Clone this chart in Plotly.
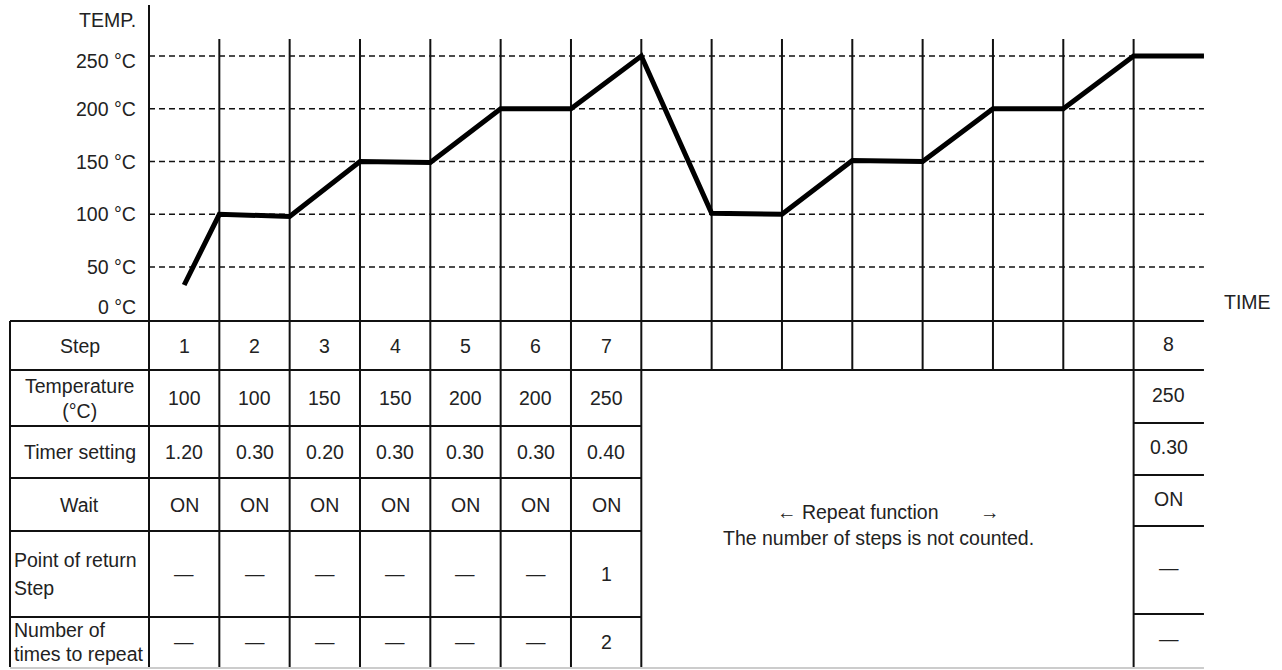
import plotly.graph_objects as go

# ---------------- data ----------------
time_points = [0.5, 1, 2, 3, 4, 5, 6, 7, 8, 9, 10, 11, 12, 13, 14, 15]
temp_profile = [33, 100, 98, 150, 149, 200, 200, 250, 101, 100, 151, 150, 200, 200, 250, 250]

temp_ticks = [0, 50, 100, 150, 200, 250]
temp_tick_labels = ["0 °C", "50 °C", "100 °C", "150 °C", "200 °C", "250 °C"]

row_headers = ["Step", "Temperature<br>(°C)", "Timer setting", "Wait"]
row_headers_left = [["Point of return", "Step"], ["Number of", "times to repeat"]]

steps = ["1", "2", "3", "4", "5", "6", "7"]
step_temps = ["100", "100", "150", "150", "200", "200", "250"]
timer_settings = ["1.20", "0.30", "0.20", "0.30", "0.30", "0.30", "0.40"]
wait_flags = ["ON", "ON", "ON", "ON", "ON", "ON", "ON"]
return_steps = ["—", "—", "—", "—", "—", "—", "1"]
repeat_counts = ["—", "—", "—", "—", "—", "—", "2"]

last_step = ["8", "250", "0.30", "ON", "—", "—"]

repeat_note_1 = "← Repeat function"
repeat_note_arrow = "→"
repeat_note_2 = "The number of steps is not counted."

# ---------------- geometry (pixels) ----------------
W, H = 1282, 670
X0, DX = 149.0, 70.33      # pixel of x=0, pixels per column
Y0, DY = 319.8, 1.055      # pixel of 0 °C, pixels per °C
N_COLS = 15

def xp(px):
    return (px - X0) / DX

def yp(py):
    return (Y0 - py) / DY

TABLE_LEFT = 10
ROW_EDGES = [321, 370, 426, 478, 531, 617, 667]
RIGHT_EDGES = [321, 370, 423, 475, 526, 614, 667]
GRID_TOP = 39
AXIS_TOP = 5

FONT = "Liberation Sans, Arial, sans-serif"
FS = 19.5
TXT = "#222222"
LINE = "#111111"

fig = go.Figure()
fig.add_trace(go.Scatter(
    x=time_points, y=temp_profile, mode="lines",
    line=dict(color="black", width=5), hoverinfo="skip", showlegend=False))

shapes = []

def vline(x, py_top, py_bot, width=2, color=LINE):
    shapes.append(dict(type="line", xref="x", yref="y", x0=x, x1=x,
                       y0=yp(py_top), y1=yp(py_bot),
                       line=dict(color=color, width=width), layer="below"))

def hline(py, xa, xb, width=2, color=LINE, dash=None):
    ln = dict(color=color, width=width)
    if dash:
        ln["dash"] = dash
    shapes.append(dict(type="line", xref="x", yref="y", x0=xa, x1=xb,
                       y0=yp(py), y1=yp(py), line=ln, layer="below"))

# dashed temperature guides
for t in temp_ticks[1:]:
    shapes.append(dict(type="line", xref="x", yref="y", x0=0, x1=N_COLS, y0=t, y1=t,
                       line=dict(color=LINE, width=1.6, dash="6px,4px"), layer="below"))

# temperature axis
vline(0, AXIS_TOP, ROW_EDGES[-1])
# table left border
vline(xp(TABLE_LEFT), ROW_EDGES[0], ROW_EDGES[-1])
# column lines
for i in range(1, N_COLS):
    bottom = ROW_EDGES[-1] if (i <= 7 or i == N_COLS - 1) else ROW_EDGES[1]
    vline(i, GRID_TOP, bottom)

# table horizontal lines
hline(ROW_EDGES[0], xp(TABLE_LEFT), N_COLS)
hline(ROW_EDGES[1], xp(TABLE_LEFT), N_COLS)
for py in ROW_EDGES[2:-1]:
    hline(py, xp(TABLE_LEFT), 7)
for py in RIGHT_EDGES[2:-1]:
    hline(py, N_COLS - 1, N_COLS)
hline(ROW_EDGES[-1] + 1, xp(TABLE_LEFT), N_COLS, width=1.5, color="#bbbbbb")

annotations = []

def text(x, y, s, xanchor="center", xshift=0, yshift=0, size=FS, family=FONT):
    annotations.append(dict(x=x, y=y, xref="x", yref="y", text=s, showarrow=False,
                            xanchor=xanchor, yanchor="middle", xshift=xshift, yshift=yshift,
                            font=dict(family=family, size=size, color=TXT)))

# y labels
label_shift = {0: 13, 250: -5}
for t, lab in zip(temp_ticks, temp_tick_labels):
    text(xp(138), t, lab, xanchor="right", yshift=label_shift.get(t, 0))
text(xp(138), yp(20), "TEMP.", xanchor="right")
text(xp(1222), yp(302), "TIME", xanchor="left")

# row header texts
label_cx = xp((TABLE_LEFT + X0) / 2)
def row_mid(edges, r):
    return yp((edges[r] + edges[r + 1]) / 2)

for r, h in enumerate(row_headers):
    text(label_cx, row_mid(ROW_EDGES, r), h)
for k, lines in enumerate(row_headers_left):
    r = 4 + k
    top, bot = ROW_EDGES[r], ROW_EDGES[r + 1]
    mid = (top + bot) / 2
    gap = 14 if r == 4 else 12
    text(xp(TABLE_LEFT + 2), yp(mid - gap), lines[0], xanchor="left")
    text(xp(TABLE_LEFT + 2), yp(mid + gap), lines[1], xanchor="left")

rows = [steps, step_temps, timer_settings, wait_flags, return_steps, repeat_counts]
for r, vals in enumerate(rows):
    for c, v in enumerate(vals):
        text(c + 0.5, row_mid(ROW_EDGES, r), v)
for r, v in enumerate(last_step):
    text(N_COLS - 0.5, row_mid(RIGHT_EDGES, r), v, yshift=2)

# merged cell note
text(xp(775), yp(512), repeat_note_1, xanchor="left")
text(xp(990), yp(512), repeat_note_arrow)
text(10.5, yp(538), repeat_note_2, xshift=-9)

fig.update_layout(
    width=W, height=H, autosize=False,
    margin=dict(l=0, r=0, t=0, b=0, pad=0),
    paper_bgcolor="white", plot_bgcolor="white",
    xaxis=dict(range=[xp(0), xp(W)], visible=False, fixedrange=True),
    yaxis=dict(range=[yp(H), yp(0)], visible=False, fixedrange=True),
    shapes=shapes, annotations=annotations, showlegend=False,
)

fig.write_html(
    "out.html",
    config={"displayModeBar": False},
    post_script="document.body.style.margin='0px';document.body.style.overflow='hidden';",
)
